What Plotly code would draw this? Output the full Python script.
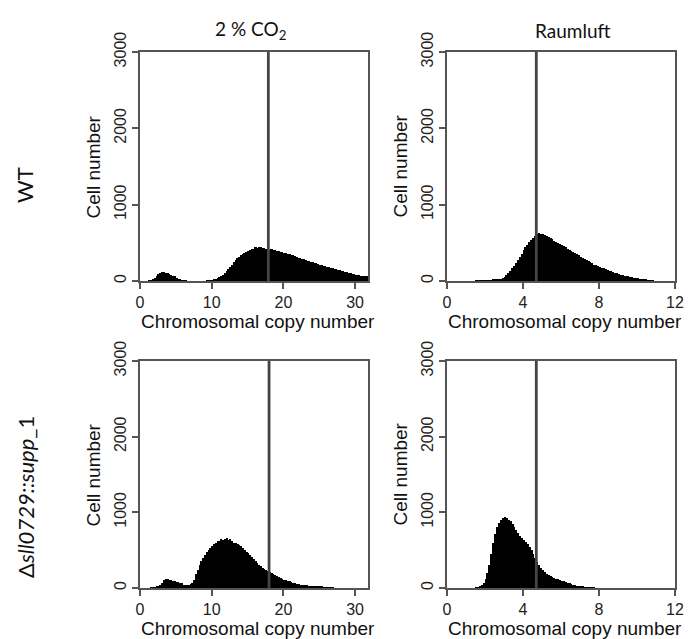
import plotly.graph_objects as go

# ---------------- data ----------------
col_titles = ["2 % CO<sub>2</sub>", "Raumluft"]
row_titles = ["WT", "Δ<i>sll0729::supp</i>_1"]
x_title = "Chromosomal copy number"
y_title = "Cell number"

# left column: histogram bins of width 0.25 starting at 0 (one line = one unit)
left_bin_width = 0.25
wt_co2_counts = [
    0, 0, 0, 0,
    0, 2, 8, 20,
    45, 70, 95, 110,
    122, 118, 108, 100,
    90, 80, 70, 60,
    45, 32, 20, 10,
    5, 2, 0, 0,
    0, 0, 0, 0,
    0, 0, 0, 0,
    0, 2, 5, 8,
    12, 20, 30, 42,
    55, 68, 85, 100,
    125, 155, 185, 215,
    250, 280, 300, 320,
    340, 355, 370, 385,
    395, 400, 415, 425,
    440, 435, 450, 440,
    430, 435, 425, 420,
    410, 415, 400, 405,
    395, 390, 380, 378,
    370, 365, 358, 350,
    345, 335, 325, 315,
    305, 298, 290, 282,
    275, 268, 260, 255,
    250, 242, 235, 225,
    215, 208, 200, 192,
    185, 178, 170, 165,
    160, 152, 145, 140,
    135, 126, 120, 115,
    110, 102, 95, 90,
    85, 80, 75, 72,
    70, 67, 65, 62,
]
mut_co2_counts = [
    0, 0, 0, 0,
    0, 0, 2, 5,
    8, 15, 25, 40,
    70, 100, 118, 115,
    110, 102, 95, 88,
    82, 75, 68, 60,
    46, 44, 44, 46,
    52, 66, 110, 180,
    240, 300, 355, 395,
    430, 470, 500, 525,
    550, 575, 600, 615,
    625, 650, 630, 645,
    660, 640, 650, 620,
    600, 590, 580, 565,
    550, 530, 505, 480,
    460, 435, 405, 380,
    360, 335, 310, 290,
    270, 255, 240, 225,
    210, 195, 180, 168,
    155, 142, 132, 122,
    112, 102, 95, 88,
    78, 68, 62, 56,
    50, 46, 42, 40,
    36, 34, 32, 30,
    28, 26, 24, 22,
    20, 16, 12, 8,
    5, 3, 2, 1,
    0, 0, 0, 0,
    0, 0, 0, 0,
    0, 0, 0, 0,
    0, 0, 0, 0,
    0, 0, 0, 0,
]

# right column: histogram bins of width 0.1 starting at 0 (one line = one unit)
right_bin_width = 0.1
wt_air_counts = [
    0, 0, 0, 0, 0, 0, 0, 0, 0, 0,
    0, 0, 0, 0, 0, 1, 2, 2, 3, 3,
    6, 8, 10, 12, 14, 17, 20, 25, 32, 42,
    55, 75, 100, 130, 165, 200, 240, 280, 320, 360,
    400, 440, 470, 505, 535, 560, 585, 610, 625, 618,
    610, 600, 590, 575, 560, 545, 530, 515, 500, 485,
    470, 455, 440, 425, 410, 395, 380, 365, 350, 335,
    320, 305, 290, 275, 260, 245, 230, 215, 205, 195,
    185, 175, 165, 155, 145, 135, 125, 115, 108, 100,
    92, 85, 78, 72, 66, 60, 54, 49, 44, 40,
    36, 32, 28, 22, 16, 10, 6, 3, 1, 0,
    0, 0, 0, 0, 0, 0, 0, 0, 0, 0,
]
mut_air_counts = [
    0, 0, 0, 0, 0, 0, 0, 0, 0, 0,
    0, 0, 0, 0, 0, 3, 8, 18, 35, 70,
    120, 200, 310, 450, 600, 720, 800, 860, 900, 925,
    935, 925, 905, 880, 850, 810, 770, 730, 690, 660,
    635, 610, 580, 545, 500, 450, 400, 350, 305, 270,
    240, 210, 190, 170, 155, 145, 135, 125, 115, 105,
    95, 88, 80, 72, 62, 52, 44, 37, 30, 25,
    20, 16, 12, 9, 6, 4, 2, 1, 0, 0,
    0, 0, 0, 0, 0, 0, 0, 0, 0, 0,
    0, 0, 0, 0, 0, 0, 0, 0, 0, 0,
    0, 0, 0, 0, 0, 0, 0, 0, 0, 0,
    0, 0, 0, 0, 0, 0, 0, 0, 0, 0,
]

# mean copy number (vertical line)
mean_lines = [17.9, 4.7, 18.0, 4.7]

x_ranges = [[0, 31.8], [0, 12], [0, 31.8], [0, 12]]
x_ticks = [[0, 10, 20, 30], [0, 4, 8, 12], [0, 10, 20, 30], [0, 4, 8, 12]]
y_ticks = [0, 1000, 2000, 3000]

panels = [(wt_co2_counts, left_bin_width),
          (wt_air_counts, right_bin_width),
          (mut_co2_counts, left_bin_width),
          (mut_air_counts, right_bin_width)]

# ---------------- layout geometry (pixels) ----------------
W, H = 691, 639
col_px = [(140, 368), (447, 675)]
row_px = [(52, 281), (361, 588)]

def px_x(p):
    return p / W

def px_y(p):
    return 1 - p / H

fig = go.Figure()
axis_font = dict(family="Liberation Sans, Arial, sans-serif", size=16, color="#222")
title_font = dict(family="Liberation Sans, Arial, sans-serif", size=19, color="#111")
frame = "#555"

for i, (counts, bw) in enumerate(panels):
    r, c = divmod(i, 2)
    n = i + 1
    xa = "x" if n == 1 else f"x{n}"
    ya = "y" if n == 1 else f"y{n}"
    centers = [bw * (k + 0.5) for k in range(len(counts))]
    fig.add_trace(go.Bar(x=centers, y=counts, width=bw, marker=dict(color="black", line=dict(width=0)),
                         xaxis=xa, yaxis=ya, showlegend=False))
    xd = [px_x(col_px[c][0]), px_x(col_px[c][1])]
    yd = [px_y(row_px[r][1]), px_y(row_px[r][0])]
    xkey = "xaxis" if n == 1 else f"xaxis{n}"
    ykey = "yaxis" if n == 1 else f"yaxis{n}"
    fig.layout[xkey] = dict(domain=xd, anchor=ya, range=x_ranges[i], tickvals=x_ticks[i],
                            showline=True, mirror=True, linecolor=frame, linewidth=1.8,
                            ticks="outside", ticklen=6, tickwidth=1.5, tickcolor=frame,
                            showgrid=False, zeroline=False, tickfont=axis_font, fixedrange=True,
                            automargin=False)
    fig.layout[ykey] = dict(domain=yd, anchor=xa, range=[0, 3000], tickvals=y_ticks,
                            showline=True, mirror=True, linecolor=frame, linewidth=1.8,
                            ticks="outside", ticklen=6, tickwidth=1.5, tickcolor=frame,
                            tickangle=-90, showgrid=False, zeroline=False, tickfont=axis_font,
                            fixedrange=True, automargin=False)
    # mean line
    fig.add_shape(type="line", xref=xa, yref=ya, x0=mean_lines[i], x1=mean_lines[i], y0=0, y1=3000,
                  line=dict(color="#444", width=2.8), layer="above")
    # axis titles
    fig.add_annotation(text=x_title, xref="paper", yref="paper",
                       x=px_x((col_px[c][0] + col_px[c][1]) / 2 + 4), y=px_y(row_px[r][1] + 40),
                       showarrow=False, font=title_font, xanchor="center", yanchor="middle")
    fig.add_annotation(text=y_title, xref="paper", yref="paper",
                       x=px_x(col_px[c][0] - 47), y=px_y((row_px[r][0] + row_px[r][1]) / 2),
                       showarrow=False, font=title_font, textangle=-90,
                       xanchor="center", yanchor="middle")

label_font = dict(family="Lato, Carlito, sans-serif", size=19, color="#111")
row_font = dict(family="Lato, Carlito, sans-serif", size=22, color="#111")
for c, t in enumerate(col_titles):
    fig.add_annotation(text=t, xref="paper", yref="paper",
                       x=px_x((col_px[c][0] + col_px[c][1]) / 2 + [-3, 12][c]), y=px_y(30),
                       showarrow=False, font=label_font, xanchor="center", yanchor="middle")
row_label_y = [185, 497]
for r, t in enumerate(row_titles):
    fig.add_annotation(text=t, xref="paper", yref="paper",
                       x=px_x(25), y=px_y(row_label_y[r]),
                       showarrow=False, font=row_font, textangle=-90,
                       xanchor="center", yanchor="middle")

fig.update_layout(width=W, height=H, margin=dict(l=0, r=0, t=0, b=0, autoexpand=False),
                  paper_bgcolor="white", plot_bgcolor="white", bargap=0)
fig.write_html("out.html")
